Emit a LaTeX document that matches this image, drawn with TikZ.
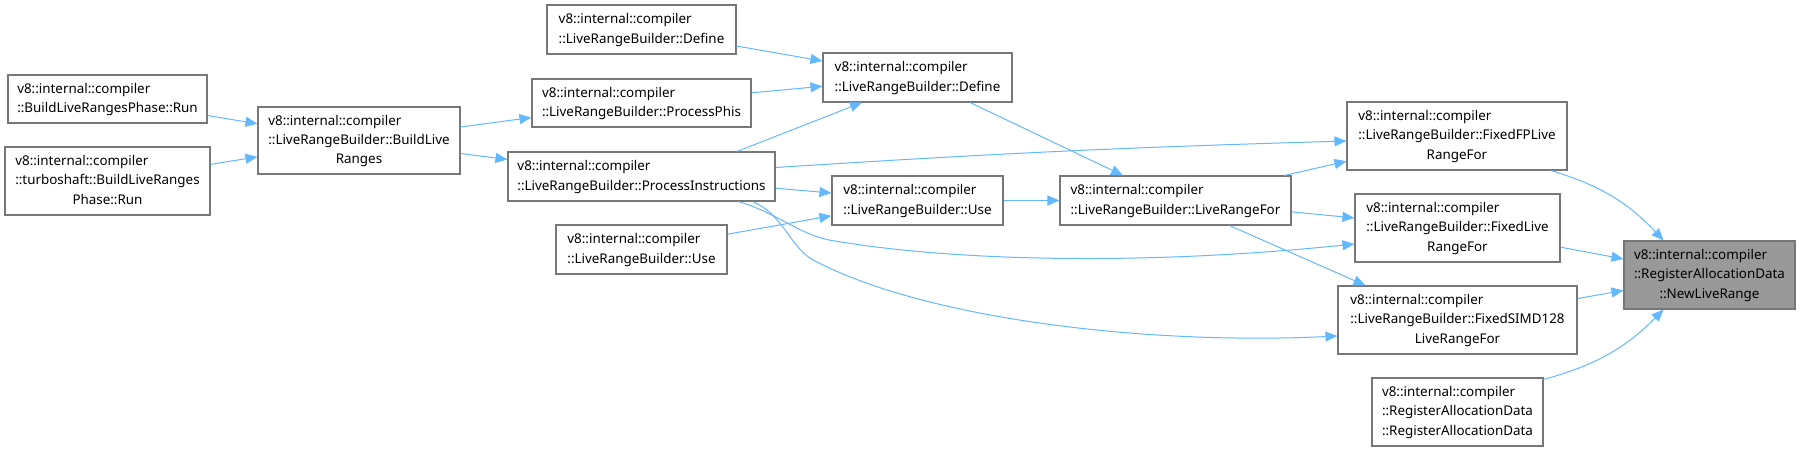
\documentclass[tikz,border=0pt]{standalone}
\usepackage{fontspec}
\setmainfont{Noto Sans}
\usepackage{xcolor}
\usetikzlibrary{arrows.meta}

\definecolor{callblue}{HTML}{63B8FF}
\definecolor{boxgray}{HTML}{777777}
\definecolor{hitgray}{HTML}{999999}

\newcommand{\twol}[2]{\begin{tabular}{@{}l@{}}#1\\#2\end{tabular}}
\newcommand{\threel}[3]{\begin{tabular}{@{}l@{}}#1\\#2\\\multicolumn{1}{@{}c@{}}{#3}\end{tabular}}

\begin{document}
\begin{tikzpicture}[
  x=1pt, y=-1pt,
  fn/.style={draw=boxgray, line width=1.1pt, fill=white, inner sep=0pt,
             font=\fontsize{13.4}{19.3}\selectfont},
  cur/.style={fn, fill=hitgray},
  call/.style={-{Triangle[length=12pt,width=10pt]}, draw=callblue, line width=1pt}
]
  \useasboundingbox (0,0) rectangle (1800,452);

  % Callers, left to right
  \node[fn, minimum width=199pt, minimum height=48pt] (phaseRun) at (107.5,99) {\twol{v8::internal::compiler}{::BuildLiveRangesPhase::Run}};
  \node[fn, minimum width=205pt, minimum height=68pt] (tsRun) at (107.5,181) {\threel{v8::internal::compiler}{::turboshaft::BuildLiveRanges}{Phase::Run}};
  \node[fn, minimum width=202pt, minimum height=67pt] (buildLR) at (359,140.5) {\threel{v8::internal::compiler}{::LiveRangeBuilder::BuildLive}{Ranges}};
  \node[fn, minimum width=189pt, minimum height=49pt] (defineA) at (641.5,29.5) {\twol{v8::internal::compiler}{::LiveRangeBuilder::Define}};
  \node[fn, minimum width=219pt, minimum height=48pt] (procPhis) at (641.5,103) {\twol{v8::internal::compiler}{::LiveRangeBuilder::ProcessPhis}};
  \node[fn, minimum width=267pt, minimum height=49pt] (procInstr) at (641.5,176.5) {\twol{v8::internal::compiler}{::LiveRangeBuilder::ProcessInstructions}};
  \node[fn, minimum width=171pt, minimum height=49pt] (useA) at (641.5,249.5) {\twol{v8::internal::compiler}{::LiveRangeBuilder::Use}};
  \node[fn, minimum width=189pt, minimum height=49pt] (defineB) at (917.5,77.5) {\twol{v8::internal::compiler}{::LiveRangeBuilder::Define}};
  \node[fn, minimum width=171pt, minimum height=49pt] (useB) at (917.5,200.5) {\twol{v8::internal::compiler}{::LiveRangeBuilder::Use}};
  \node[fn, minimum width=231pt, minimum height=49pt] (lrFor) at (1175.5,200.5) {\twol{v8::internal::compiler}{::LiveRangeBuilder::LiveRangeFor}};
  \node[fn, minimum width=220pt, minimum height=68pt] (fixedFP) at (1457,136) {\threel{v8::internal::compiler}{::LiveRangeBuilder::FixedFPLive}{RangeFor}};
  \node[fn, minimum width=205pt, minimum height=68pt] (fixedLR) at (1457.5,228) {\threel{v8::internal::compiler}{::LiveRangeBuilder::FixedLive}{RangeFor}};
  \node[fn, minimum width=239pt, minimum height=68pt] (fixedSIMD) at (1457.5,320) {\threel{v8::internal::compiler}{::LiveRangeBuilder::FixedSIMD128}{LiveRangeFor}};
  \node[fn, minimum width=171pt, minimum height=68pt] (raData) at (1457.5,412) {\threel{v8::internal::compiler}{::RegisterAllocationData}{::RegisterAllocationData}};

  % The function itself
  \node[cur, minimum width=171pt, minimum height=68pt] (newLR) at (1709.5,275) {\threel{v8::internal::compiler}{::RegisterAllocationData}{::NewLiveRange}};

  % Calls
  \draw[call] (phaseRun) -- (buildLR);
  \draw[call] (tsRun) -- (buildLR);
  \draw[call] (buildLR) -- (procPhis);
  \draw[call] (buildLR) -- (procInstr);
  \draw[call] (defineA) -- (defineB);
  \draw[call] (procPhis) -- (defineB);
  \draw[call] ([xshift=95.5pt]procInstr.north) -- ([xshift=-55.5pt]defineB.south);
  \draw[call] ([yshift=9pt]procInstr.east) to[bend left=1] ([yshift=-5pt]fixedFP.west);
  \draw[call] (procInstr) -- (useB);
  \draw[call] ([xshift=97pt]procInstr.south) .. controls (780,214) and (800,236) .. (835,241)
    .. controls (960,262) and (1150,265) .. ([yshift=-16pt]fixedLR.west);
  \draw[call] ([xshift=111pt]procInstr.south) .. controls (785,215) and (790,250) .. (817,262)
    .. controls (930,320) and (1150,345) .. ([yshift=-16pt]fixedSIMD.west);
  \draw[call] (useA) -- (useB);
  \draw[call] (useB) -- (lrFor);
  \draw[call] (defineB) -- (lrFor);
  \draw[call] (lrFor) -- (fixedFP);
  \draw[call] (lrFor) -- (fixedLR);
  \draw[call] ([xshift=54pt]lrFor.south) -- ([xshift=-92pt]fixedSIMD.north);
  \draw[call] ([xshift=94pt]fixedFP.south) to[bend left=15] ([xshift=-46pt]newLR.north);
  \draw[call] (fixedLR) -- (newLR);
  \draw[call] (fixedSIMD) -- (newLR);
  \draw[call] ([yshift=-2pt]raData.north east) to[bend right=15] ([xshift=-46pt]newLR.south);
\end{tikzpicture}
\end{document}
